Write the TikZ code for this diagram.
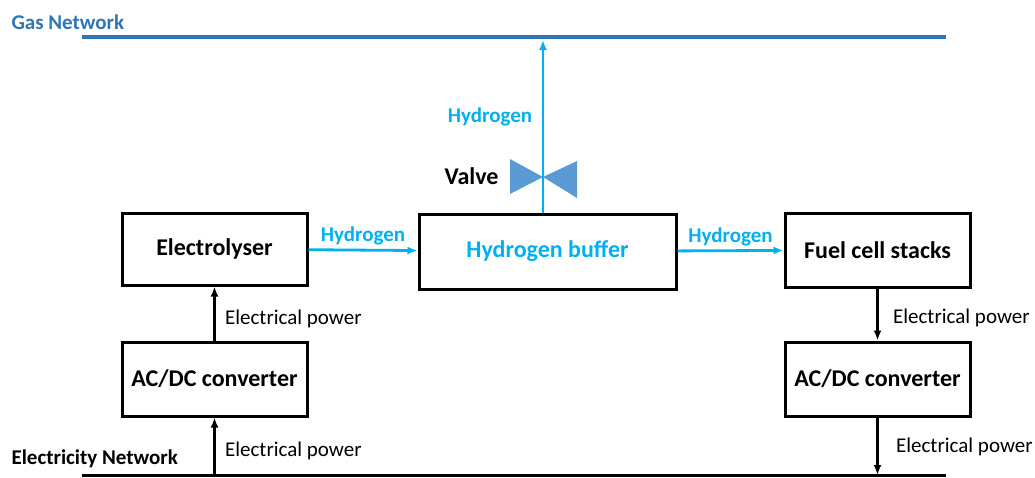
\documentclass[tikz,border=0pt]{standalone}
\usepackage{fontspec}
\setmainfont{Carlito}
\usetikzlibrary{arrows.meta,calc,positioning}
\definecolor{gasblue}{RGB}{46,117,182}
\definecolor{htwoblue}{RGB}{0,176,240}
\definecolor{valveblue}{RGB}{91,155,213}

\begin{document}
\begin{tikzpicture}[x=1pt,y=-1pt,>={Latex[length=10pt,width=8pt]},
    font=\fontsize{21}{24}\selectfont,
    unit/.style={draw,line width=3pt,minimum width=185pt,minimum height=72pt,
      font=\fontsize{24}{28}\selectfont\bfseries},
    power/.style={->,line width=2.5pt},
    htwo/.style={->,line width=2.8pt,draw=htwoblue,fill=htwoblue},
    htwolabel/.style={text=htwoblue,font=\fontsize{21}{24}\selectfont\bfseries},
    netlabel/.style={anchor=west,font=\fontsize{21}{24}\selectfont\bfseries}]
  \useasboundingbox (0,0) rectangle (1035,477);
  % networks
  \coordinate (gasL) at (82,37);
  \coordinate (gasR) at (946,37);
  \coordinate (elL) at (82,475);
  \coordinate (elR) at (946,475);
  \draw[gasblue,line width=4.5pt] (gasL)--(gasR);
  \draw[line width=3pt] (elL)--(elR);
  \node[netlabel,text=gasblue] (gasnet) at (8,22) {Gas Network};
  \node[netlabel] (elnet) at (8,459) {Electricity Network};
  % units
  \node[unit] (elec) at (214.5,249) {Electrolyser};
  \node[unit,minimum width=257pt,minimum height=75pt,text=htwoblue] (buffer) at (547.5,251.5) {Hydrogen buffer};
  \node[unit,minimum height=74pt] (fuel) at (877.5,250) {Fuel cell stacks};
  \node[unit,minimum height=74pt] (acdcl) at (214.5,379) {AC/DC converter};
  \node[unit,minimum height=74pt] (acdcr) at (877.5,379) {AC/DC converter};
  % valve
  \coordinate (valve) at (543,177);
  \coordinate (gastap) at (543,40);
  \fill[valveblue] (valve)--++(-33,-18)--++(0,35)--cycle;
  \fill[valveblue] (valve)--++(34,-16)--++(0,37)--cycle;
  \node[anchor=east,font=\fontsize{24}{28}\selectfont\bfseries] (valvelabel) at (502,176) {Valve};
  % hydrogen flows
  \draw[htwo] (buffer.north -| valve)--(gastap);
  \node[htwolabel] (h2up) at (490,117) {Hydrogen};
  \draw[htwo] (elec)--node[htwolabel,above]{Hydrogen}(buffer);
  \draw[htwo] (buffer)--node[htwolabel,above]{Hydrogen}(fuel);
  % electrical power
  \draw[power] (acdcl)--node[right,xshift=6pt,yshift=-5pt]{Electrical power}(elec);
  \draw[power] (acdcl.south |- elL)--node[right,xshift=6pt,yshift=-5pt]{Electrical power}(acdcl);
  \draw[power] (fuel)--node[right,xshift=11pt,yshift=-3pt]{Electrical power}(acdcr);
  \draw[power] (acdcr)--node[right,xshift=14pt,yshift=-1pt]{Electrical power}(acdcr.south |- elR);
\end{tikzpicture}
\end{document}
